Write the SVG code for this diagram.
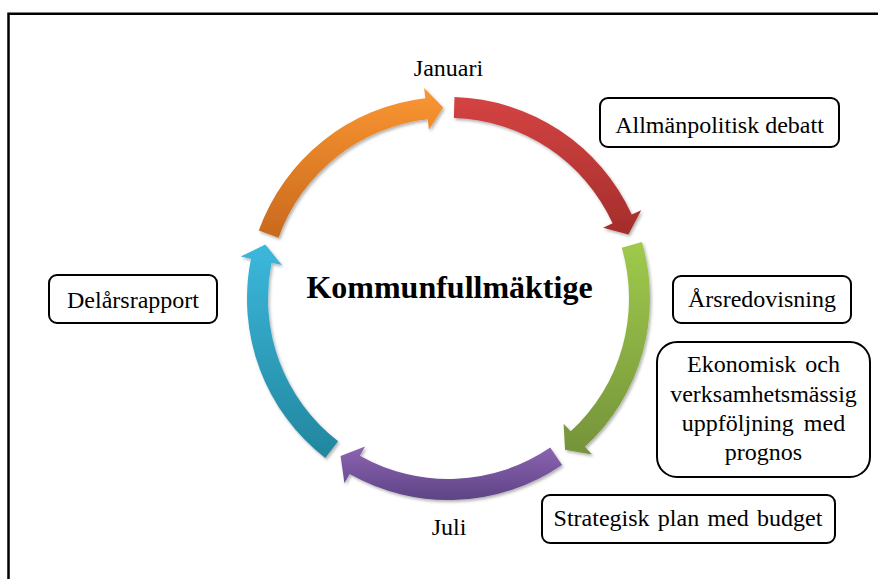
<svg xmlns="http://www.w3.org/2000/svg" width="878" height="579" viewBox="0 0 878 579">
<style>
  .t{font-family:"Liberation Serif","Times New Roman",serif;font-size:24px;fill:#000;text-anchor:middle}
  .box{fill:#fff;stroke:#000;stroke-width:2}
  .arrow{filter:url(#sh)}
</style>
<defs>
  <filter id="sh" x="-10%" y="-10%" width="130%" height="130%">
    <feDropShadow dx="1.5" dy="2" stdDeviation="1.8" flood-color="#000" flood-opacity="0.3"/>
  </filter>
  <linearGradient id="gRed" x1="0" y1="0" x2="0" y2="1"><stop offset="0" stop-color="#d44443"/><stop offset="1" stop-color="#a42d2b"/></linearGradient>
  <linearGradient id="gGreen" x1="0" y1="0" x2="0" y2="1"><stop offset="0" stop-color="#9fca4c"/><stop offset="1" stop-color="#75933a"/></linearGradient>
  <linearGradient id="gPurple" x1="0" y1="0" x2="0" y2="1"><stop offset="0" stop-color="#8c64b3"/><stop offset="1" stop-color="#5e4485"/></linearGradient>
  <linearGradient id="gCyan" x1="0" y1="0" x2="0" y2="1"><stop offset="0" stop-color="#3cb8dc"/><stop offset="1" stop-color="#22869e"/></linearGradient>
  <linearGradient id="gOrange" x1="0" y1="0" x2="0" y2="1"><stop offset="0" stop-color="#fa9632"/><stop offset="1" stop-color="#c9691d"/></linearGradient>
</defs>
<rect width="878" height="579" fill="#fff"/>
<path d="M8.5,579 V13.8 H878" fill="none" stroke="#000" stroke-width="2.5"/>

<g id="cycle">
  <path id="arrow-red" class="arrow" fill="url(#gRed)" d="M454.48,97.09 A201.5,201.5 0 0 1 631.71,214.62 L641.26,210.25 L628.44,234.43 L603.07,227.73 L612.62,223.36 A180.5,180.5 0 0 0 453.86,118.08 Z"/>
  <path id="arrow-green" class="arrow" fill="url(#gGreen)" d="M641.90,241.94 A201.5,201.5 0 0 1 584.90,446.83 L592.00,454.56 L565.04,449.83 L563.57,423.64 L570.68,431.37 A180.5,180.5 0 0 0 621.75,247.84 Z"/>
  <path id="arrow-purple" class="arrow" fill="url(#gPurple)" d="M562.05,464.96 A201.5,201.5 0 0 1 349.58,474.05 L344.42,483.20 L340.59,456.10 L365.04,446.61 L359.89,455.76 A180.5,180.5 0 0 0 550.22,447.61 Z"/>
  <path id="arrow-cyan" class="arrow" fill="url(#gCyan)" d="M325.28,457.93 A201.5,201.5 0 0 1 250.96,258.67 L240.67,256.59 L265.27,244.57 L281.84,264.90 L271.55,262.82 A180.5,180.5 0 0 0 338.12,441.32 Z"/>
  <path id="arrow-orange" class="arrow" fill="url(#gOrange)" d="M258.79,230.57 A201.5,201.5 0 0 1 425.34,98.34 L424.13,87.91 L443.17,107.57 L428.96,129.63 L427.75,119.20 A180.5,180.5 0 0 0 278.56,237.65 Z"/>
</g>

<g id="center">
  <text class="t" x="449.5" y="298" style="font-size:32px;font-weight:bold">Kommunfullmäktige</text>
</g>
<g id="januari"><text class="t" x="448.5" y="76">Januari</text></g>
<g id="juli"><text class="t" x="449" y="535">Juli</text></g>

<g id="allmanpolitisk">
  <rect class="box" x="600" y="98" width="239" height="49" rx="8"/>
  <text class="t" x="719.5" y="133">Allmänpolitisk debatt</text>
</g>
<g id="arsredovisning">
  <rect class="box" x="673" y="276" width="178" height="47" rx="8"/>
  <text class="t" x="762" y="307">Årsredovisning</text>
</g>
<g id="ekonomisk">
  <rect class="box" x="657" y="342" width="213" height="135" rx="20"/>
  <text class="t" x="763.5" y="372" word-spacing="3">Ekonomisk och</text>
  <text class="t" x="763.5" y="401.5">verksamhetsmässig</text>
  <text class="t" x="763.5" y="431" word-spacing="4">uppföljning med</text>
  <text class="t" x="763.5" y="460">prognos</text>
</g>
<g id="strategisk">
  <rect class="box" x="542" y="495" width="293" height="48" rx="8"/>
  <text class="t" x="688" y="526" word-spacing="2.3">Strategisk plan med budget</text>
</g>
<g id="delarsrapport">
  <rect class="box" x="49" y="275" width="168" height="48" rx="8"/>
  <text class="t" x="133" y="308">Delårsrapport</text>
</g>
</svg>
